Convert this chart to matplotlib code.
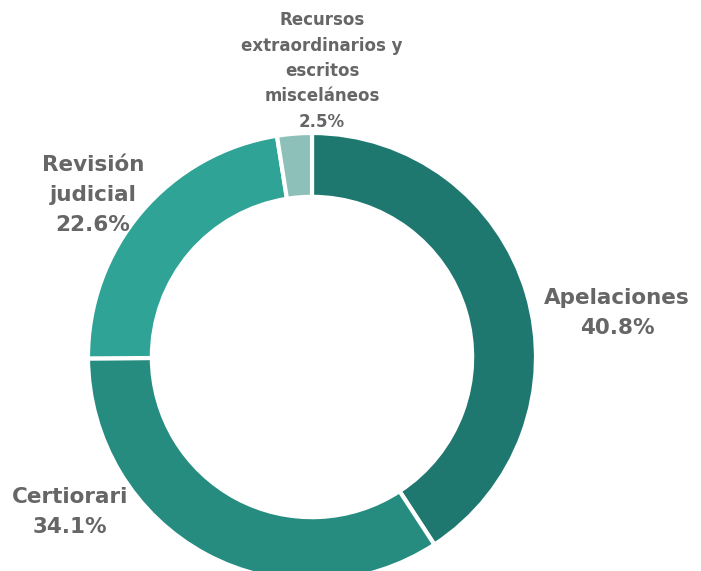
import matplotlib
matplotlib.use("Agg")
import matplotlib.pyplot as plt

categories = ["Apelaciones", "Certiorari", "Revisión judicial",
              "Recursos extraordinarios y escritos misceláneos"]
values = [40.8, 34.1, 22.6, 2.5]
label_texts = ["Apelaciones\n40.8%", "Certiorari\n34.1%", "Revisión\njudicial\n22.6%",
               "Recursos\nextraordinarios y\nescritos\nmisceláneos\n2.5%"]
colors = ["#1e7870", "#268c80", "#2ea396", "#8cc0b9"]

W, H = 701, 571
fig = plt.figure(figsize=(W / 100, H / 100), dpi=100)
ax = fig.add_axes([0, 0, 1, 1])
cx, cy, R = 312, H - 357, 224
ax.pie(values, colors=colors, startangle=90, counterclock=False,
       center=(cx, cy), radius=R,
       wedgeprops=dict(width=R * 0.285, edgecolor="white", linewidth=3))
ax.set_xlim(0, W)
ax.set_ylim(0, H)
ax.set_aspect("equal")
ax.axis("off")

txt = dict(color="#666666", fontweight="bold", ha="center", va="center",
           family=["DejaVu Sans"])
ax.text(617, H - 313, label_texts[0], fontsize=15.5, linespacing=1.58, **txt)
ax.text(70, H - 512, label_texts[1], fontsize=15.5, linespacing=1.58, **txt)
ax.text(93, H - 195, label_texts[2], fontsize=15.5, linespacing=1.62, **txt)
ax.text(322, H - 71, label_texts[3], fontsize=12, linespacing=1.52, **txt)

fig.savefig("out.png", dpi=100)
